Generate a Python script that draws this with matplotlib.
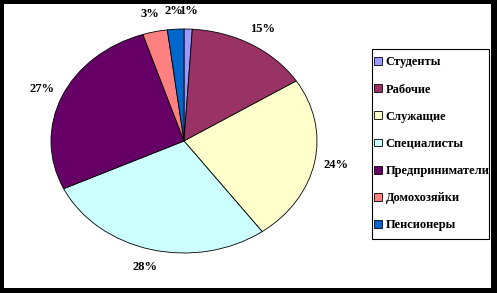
import matplotlib
matplotlib.use("Agg")
import matplotlib.pyplot as plt
from matplotlib.patches import Patch, Rectangle

categories = ["Студенты", "Рабочие", "Служащие", "Специалисты",
              "Предприниматели", "Домохозяйки", "Пенсионеры"]
values = [1, 15, 24, 28, 27, 3, 2]
colors = ["#9999FF", "#993366", "#FFFFCC", "#CCFFFF", "#660066", "#FF8080", "#0066CC"]

W, H = 497, 293
fig = plt.figure(figsize=(W / 100, H / 100), dpi=100)
fig.patch.set_facecolor("white")

# pie axes: centre (184,141) px, radii 133 x 112 px
cx, cy, rx, ry = 184, 141, 133, 112
ax = fig.add_axes([(cx - 1.25 * rx) / W, (H - cy - 1.25 * ry) / H,
                   2.5 * rx / W, 2.5 * ry / H])
wedges, texts, autotexts = ax.pie(
    values, colors=colors, startangle=90, counterclock=False,
    autopct=lambda p: f"{p:.0f}%", pctdistance=1.165,
    wedgeprops=dict(edgecolor="black", linewidth=0.6),
    textprops=dict(fontfamily="Liberation Serif", fontweight="bold", fontsize=9))
ax.set_aspect("auto")
ax.set_xlim(-1.25, 1.25)
ax.set_ylim(-1.25, 1.25)

handles = [Patch(facecolor=c, edgecolor="black", linewidth=0.6) for c in colors]
leg = fig.legend(handles, categories, loc="upper left",
                 bbox_to_anchor=(374 / W, 1 - 56.5 / H),
                 prop=dict(family="Liberation Serif", weight="bold", size=9),
                 handlelength=0.6, handleheight=0.6, handletextpad=0.35,
                 labelspacing=1.21, borderpad=0, borderaxespad=0,
                 frameon=False)

# legend frame
fig.patches.append(Rectangle((372 / W, 1 - 239 / H), 117 / W, 190 / H,
                             transform=fig.transFigure, facecolor="none",
                             edgecolor="black", linewidth=0.8))

# thick black figure border
for (x0, y0, w, h) in [(0, 0, 4, H), (W - 6, 0, 6, H), (0, 0, W, 5), (0, H - 4, W, 4)]:
    fig.patches.append(Rectangle((x0 / W, y0 / H), w / W, h / H,
                                 transform=fig.transFigure, facecolor="black",
                                 edgecolor="none"))

fig.savefig("out.png", dpi=100)
